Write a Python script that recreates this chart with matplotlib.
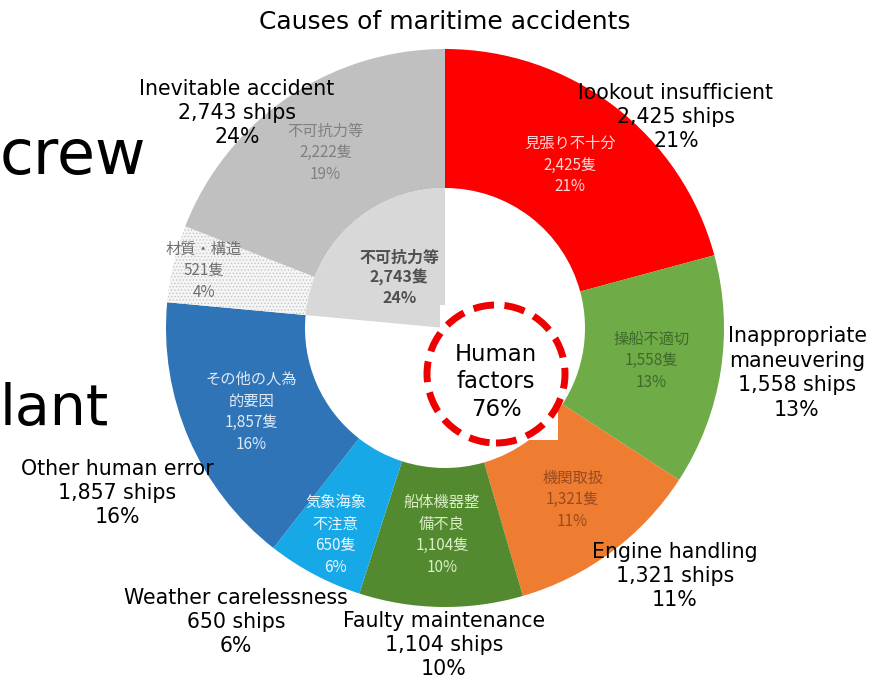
import matplotlib
matplotlib.use("Agg")
import matplotlib.pyplot as plt
from matplotlib.patches import Wedge, Circle, Rectangle
import numpy as np

# ---------------------------------------------------------------------------
# Data
# ---------------------------------------------------------------------------
names_en = [
    "lookout insufficient",
    "Inappropriate\nmaneuvering",
    "Engine handling",
    "Faulty maintenance",
    "Weather carelessness",
    "Other human error",
    None,                      # material / structure has no English label
    "Inevitable accident",
]
names_ja = [
    "見張り不十分",
    "操船不適切",
    "機関取扱",
    "船体機器整\n備不良",
    "気象海象\n不注意",
    "その他の人為\n的要因",
    "材質・構造",
    "不可抗力等",
]
ships = [2425, 1558, 1321, 1104, 650, 1857, 521, 2222]
shares = [21, 13, 11, 10, 6, 16, 4, 19]

force_majeure_ships = 2743
force_majeure_share = 24
human_share = 76

# ---------------------------------------------------------------------------
# Styles / layout (pixel coordinates, y measured from the bottom)
# ---------------------------------------------------------------------------
W, H = 873, 681
CX, CY = 445, H - 328
R_OUT, R_IN = 279, 140

seg_colors = ["#ff0000", "#6fab46", "#ee7d31", "#538a30",
              "#17a8e8", "#2e74b6", "#f5f5f5", "#c0c0c0"]
txt_colors = ["#ffd6d6", "#3f6a2a", "#9a4a1e", "#d9efc4",
              "#e8f6ff", "#dfe9f6", "#707070", "#808080"]
label_r = [205, 209, 214, 207, 234, 211, 248, 212]

en_pos = [(676, 117), (797, 373), (675, 576), (444, 645),
          (236, 622), (117, 493), None, (237, 113)]

plt.rcParams["font.family"] = ["DejaVu Sans", "Noto Sans CJK JP"]
plt.rcParams["hatch.linewidth"] = 0.6

fig = plt.figure(figsize=(W / 100, H / 100), dpi=100)
ax = fig.add_axes([0, 0, 1, 1])

wedges, _ = ax.pie(
    ships, radius=R_OUT, center=(CX, CY), startangle=90, counterclock=False,
    colors=seg_colors, wedgeprops=dict(width=R_OUT - R_IN, linewidth=0),
    frame=True,
)
ax.set_xlim(0, W)
ax.set_ylim(0, H)
ax.axis("off")

# dotted texture on the material / structure segment
wedges[6].set_edgecolor("#c4c4c4")
wedges[6].set_linewidth(0)
wedges[6].set_hatch(".....")

# labels inside the ring
for w, ja, n, p, c, r in zip(wedges, names_ja, ships, shares, txt_colors, label_r):
    mid = np.deg2rad((w.theta1 + w.theta2) / 2)
    ax.text(CX + r * np.cos(mid), CY + r * np.sin(mid), f"{ja}\n{n:,}隻\n{p}%",
            ha="center", va="center", fontsize=11, color=c,
            family=["Noto Sans CJK JP"], linespacing=1.35, zorder=5)

# inner force-majeure sector
fm_span = 360 * force_majeure_ships / sum(ships)
ax.add_patch(Wedge((CX, CY), R_IN, 90, 90 + fm_span, facecolor="#d8d8d8",
                   linewidth=0, zorder=3))
fm_mid = np.deg2rad(90 + fm_span / 2)
ax.text(CX + 68 * np.cos(fm_mid), CY + 68 * np.sin(fm_mid),
        f"不可抗力等\n{force_majeure_ships:,}隻\n{force_majeure_share}%",
        ha="center", va="center", fontsize=11.5, color="#505050",
        fontweight="bold", family=["Noto Sans CJK JP"], linespacing=1.25,
        zorder=5)

# white text-box behind the human-factors callout
ax.add_patch(Rectangle((440, H - 440), 118, 135, facecolor="white",
                       edgecolor="none", zorder=4))
ax.add_patch(Circle((496, H - 374), 69, facecolor="none", edgecolor="#ee0000",
                    linewidth=5, linestyle=(0, (3.0, 1.5)), zorder=6))
ax.text(496, H - 382, f"Human\nfactors\n{human_share}%", ha="center",
        va="center", fontsize=16.4, linespacing=1.26, zorder=7)

# English callouts
for name, n, p, pos in zip(names_en, ships, shares, en_pos):
    if name is None:
        continue
    if name.startswith("Inevitable"):
        n, p = force_majeure_ships, force_majeure_share
    ax.text(pos[0], H - pos[1], f"{name}\n{n:,} ships\n{p}%", ha="center",
            va="center", fontsize=14.8, linespacing=1.28, zorder=8)

ax.text(445, H - 22, "Causes of maritime accidents", ha="center",
        va="center", fontsize=18)

# fragments of slide text cut off on the left
ax.text(0, H - 157, "crew", ha="left", va="center", fontsize=44.5)
ax.text(0, H - 410, "lant", ha="left", va="center", fontsize=41)

fig.savefig("out.png", dpi=100)
